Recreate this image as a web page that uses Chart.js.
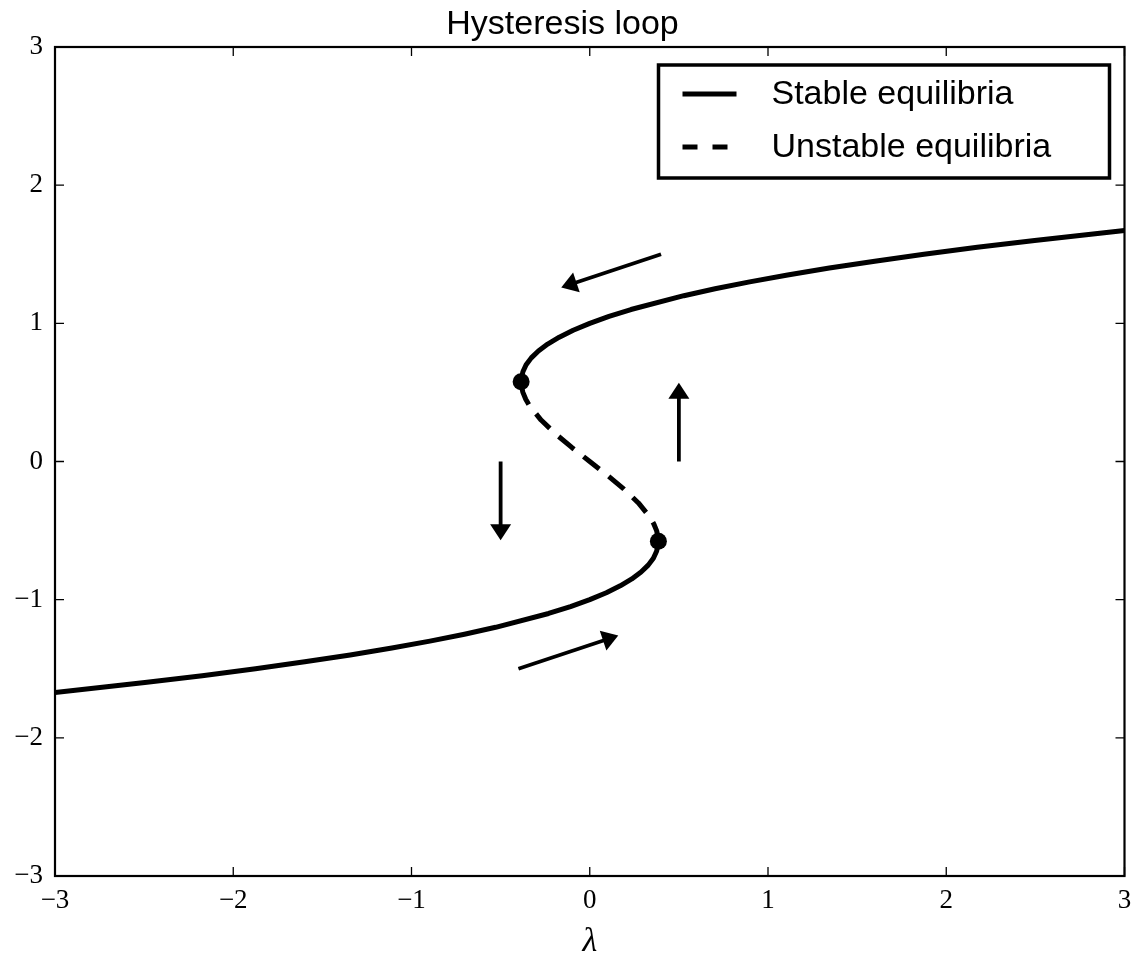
<!DOCTYPE html>
<html>
<head>
<meta charset="utf-8">
<script src="https://cdn.jsdelivr.net/npm/chart.js@4/dist/chart.umd.min.js"></script>
<style>
  html, body { margin: 0; padding: 0; background: #fff; }
  #wrap { width: 1133px; height: 957px; position: relative; }
</style>
</head>
<body>
<div id="wrap"><canvas id="c"></canvas></div>
<script>
// ---- data ----
const titleText = 'Hysteresis loop';
const xAxisLabel = 'λ';
const tickValues = [-3, -2, -1, 0, 1, 2, 3];

// upper stable branch (λ, x)
const upperLambda = [-0.385, -0.384, -0.375, -0.357, -0.328, -0.288, -0.236, -0.171, -0.093, 0, 0.108, 0.231, 0.528, 0.703, 0.897, 1.110, 1.344, 1.599, 1.875, 2.174, 2.496, 3.0];
const upperX      = [0.577, 0.6, 0.65, 0.7, 0.75, 0.8, 0.85, 0.9, 0.95, 1.0, 1.05, 1.1, 1.2, 1.25, 1.3, 1.35, 1.4, 1.45, 1.5, 1.55, 1.6, 1.672];

// lower stable branch (λ, x)
const lowerLambda = [-3.0, -2.496, -2.174, -1.875, -1.599, -1.344, -1.110, -0.897, -0.703, -0.528, -0.231, -0.108, 0, 0.093, 0.171, 0.236, 0.288, 0.328, 0.357, 0.375, 0.384, 0.385];
const lowerX      = [-1.672, -1.6, -1.55, -1.5, -1.45, -1.4, -1.35, -1.3, -1.25, -1.2, -1.1, -1.05, -1.0, -0.95, -0.9, -0.85, -0.8, -0.75, -0.7, -0.65, -0.6, -0.577];

// unstable branch (λ, x)
const unstableLambda = [0.385, 0.384, 0.375, 0.359, 0.336, 0.273, 0.192, 0.099, 0, -0.099, -0.192, -0.273, -0.336, -0.359, -0.375, -0.384, -0.385];
const unstableX      = [-0.577, -0.55, -0.5, -0.45, -0.4, -0.3, -0.2, -0.1, 0, 0.1, 0.2, 0.3, 0.4, 0.45, 0.5, 0.55, 0.577];

// fold (saddle-node) points
const foldLambda = [-0.385, 0.385];
const foldX      = [0.577, -0.577];

// annotation arrows: tail -> tip
const arrowTailLambda = [0.40, 0.50, -0.50, -0.40];
const arrowTailX      = [1.50, 0.00, 0.00, -1.50];
const arrowTipLambda  = [-0.16, 0.50, -0.50, 0.16];
const arrowTipX       = [1.26, 0.57, -0.57, -1.26];

const seriesLabels = ['Stable equilibria', 'Unstable equilibria'];

// ---- build datasets ----
const pts = (lx, ly) => lx.map((v, i) => ({x: v, y: ly[i]}));
const LW = 5;

const datasets = [
  { label: seriesLabels[0], data: pts(upperLambda, upperX), showLine: true, borderColor: '#000', borderWidth: LW, pointRadius: 0, borderCapStyle: 'butt', borderJoinStyle: 'round', tension: 0 },
  { label: '_lower', data: pts(lowerLambda, lowerX), showLine: true, borderColor: '#000', borderWidth: LW, pointRadius: 0, borderCapStyle: 'butt', borderJoinStyle: 'round', tension: 0 },
  { label: seriesLabels[1], data: pts(unstableLambda, unstableX), showLine: true, borderColor: '#000', borderWidth: LW, borderDash: [20, 12], pointRadius: 0, borderCapStyle: 'butt', borderJoinStyle: 'round', tension: 0 },
  { label: '_folds', data: pts(foldLambda, foldX), showLine: false, pointRadius: 8.5, pointBackgroundColor: '#000', pointBorderColor: '#000', pointBorderWidth: 0 }
];

const fmt = v => (v < 0 ? '\u2212' + Math.abs(v) : String(v));

// frame + inward ticks on all sides
const framePlugin = {
  id: 'frame',
  afterDatasetsDraw(chart) {
    const {ctx, chartArea: a, scales: {x, y}} = chart;
    ctx.save();
    ctx.strokeStyle = '#000';
    ctx.lineWidth = 1.3;
    const tl = 9;
    tickValues.forEach(v => {
      const px = x.getPixelForValue(v);
      ctx.beginPath();
      ctx.moveTo(px, a.bottom); ctx.lineTo(px, a.bottom - tl);
      ctx.moveTo(px, a.top); ctx.lineTo(px, a.top + tl);
      ctx.stroke();
      const py = y.getPixelForValue(v);
      ctx.beginPath();
      ctx.moveTo(a.left, py); ctx.lineTo(a.left + tl, py);
      ctx.moveTo(a.right, py); ctx.lineTo(a.right - tl, py);
      ctx.stroke();
    });
    ctx.lineWidth = 2.2;
    ctx.strokeRect(a.left, a.top, a.right - a.left, a.bottom - a.top);
    ctx.restore();
  }
};

// annotation arrows
const arrowPlugin = {
  id: 'arrows',
  afterDatasetsDraw(chart) {
    const {ctx, scales: {x, y}} = chart;
    ctx.save();
    ctx.fillStyle = '#000';
    ctx.strokeStyle = '#000';
    ctx.lineWidth = 3.8;
    for (let i = 0; i < arrowTailLambda.length; i++) {
      const x0 = x.getPixelForValue(arrowTailLambda[i]);
      const y0 = y.getPixelForValue(arrowTailX[i]);
      const x1 = x.getPixelForValue(arrowTipLambda[i]);
      const y1 = y.getPixelForValue(arrowTipX[i]);
      const ang = Math.atan2(y1 - y0, x1 - x0);
      const hl = 16, hw = 10.5;
      const bx = x1 - hl * Math.cos(ang), by = y1 - hl * Math.sin(ang);
      ctx.beginPath();
      ctx.moveTo(x0, y0);
      ctx.lineTo(bx + 2 * Math.cos(ang), by + 2 * Math.sin(ang));
      ctx.stroke();
      ctx.beginPath();
      ctx.moveTo(x1, y1);
      ctx.lineTo(bx + hw * Math.sin(ang), by - hw * Math.cos(ang));
      ctx.lineTo(bx - hw * Math.sin(ang), by + hw * Math.cos(ang));
      ctx.closePath();
      ctx.fill();
    }
    ctx.restore();
  }
};

// legend box in upper right of plot area
const legendPlugin = {
  id: 'boxLegend',
  afterDraw(chart) {
    const {ctx, chartArea: a} = chart;
    const bw = 451, bh = 113;
    const bx = a.right - 466, by = a.top + 18;
    ctx.save();
    ctx.fillStyle = '#fff';
    ctx.fillRect(bx, by, bw, bh);
    ctx.strokeStyle = '#000';
    ctx.lineWidth = 3.5;
    ctx.strokeRect(bx, by, bw, bh);
    const rows = [{label: chart.data.datasets[0].label, dash: []},
                  {label: chart.data.datasets[2].label, dash: [15, 15]}];
    rows.forEach((r, i) => {
      const ry = by + 29 + i * 53;
      ctx.beginPath();
      ctx.setLineDash(r.dash);
      ctx.lineWidth = LW;
      ctx.lineCap = 'butt';
      ctx.moveTo(bx + 24, ry);
      ctx.lineTo(bx + 78, ry);
      ctx.stroke();
      ctx.setLineDash([]);
      ctx.fillStyle = '#000';
      ctx.font = '34px "Liberation Sans", Arial, sans-serif';
      ctx.textBaseline = 'middle';
      ctx.textAlign = 'left';
      ctx.fillText(r.label, bx + 113, ry + 1);
    });
    ctx.restore();
  }
};

new Chart(document.getElementById('c'), {
  type: 'scatter',
  data: { datasets },
  options: {
    responsive: true,
    maintainAspectRatio: false,
    animation: false,
    devicePixelRatio: 1,
    layout: { padding: { left: 0, right: 8, top: 0, bottom: 0 } },
    plugins: {
      legend: { display: false },
      tooltip: { enabled: false },
      title: {
        display: true,
        text: titleText,
        color: '#000',
        font: { family: '"Liberation Sans", Arial, sans-serif', size: 34, weight: 'normal', lineHeight: 1.2 },
        padding: { top: 4, bottom: 2.2 }
      }
    },
    scales: {
      x: {
        type: 'linear', min: -3, max: 3,
        afterBuildTicks: s => { s.ticks = tickValues.map(v => ({value: v})); },
        afterFit: s => { s.height = 81; s.paddingLeft = 0; s.paddingRight = 0; },
        grid: { display: false, drawTicks: false },
        border: { display: false },
        ticks: { callback: fmt, color: '#000', padding: 9, maxRotation: 0, autoSkip: false,
                 font: { family: '"Liberation Serif", "Times New Roman", serif', size: 27 } },
        title: { display: true, text: xAxisLabel, color: '#000',
                 font: { family: '"Liberation Serif", "Times New Roman", serif', size: 34, style: 'italic', lineHeight: 0.85 },
                 padding: { top: 0, bottom: 0 } }
      },
      y: {
        type: 'linear', min: -3, max: 3,
        afterBuildTicks: s => { s.ticks = tickValues.map(v => ({value: v})); },
        afterFit: s => { s.width = 55; s.paddingTop = 0; s.paddingBottom = 0; },
        grid: { display: false, drawTicks: false },
        border: { display: false },
        ticks: { callback: fmt, color: '#000', padding: 12, autoSkip: false,
                 font: { family: '"Liberation Serif", "Times New Roman", serif', size: 27 } }
      }
    }
  },
  plugins: [framePlugin, arrowPlugin, legendPlugin]
});
</script>
</body>
</html>
